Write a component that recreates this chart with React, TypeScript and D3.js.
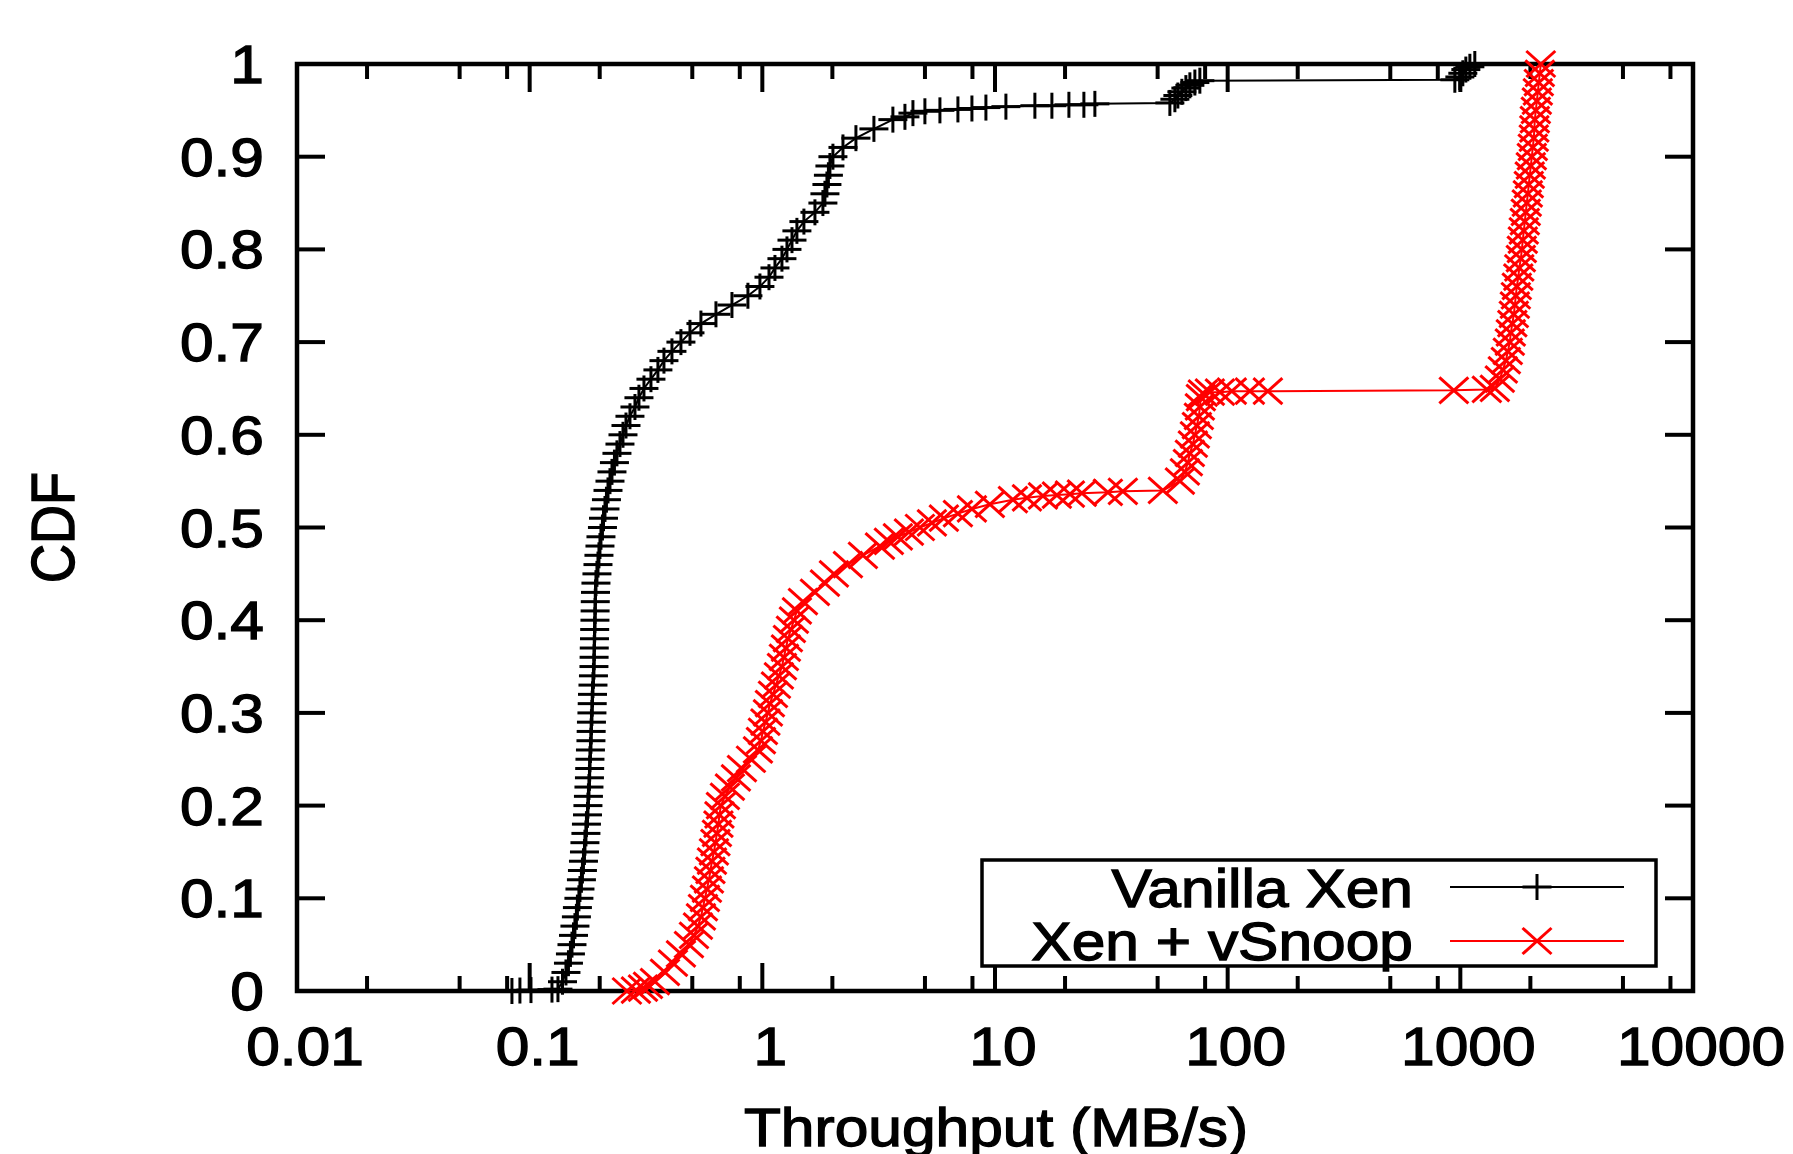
import React from 'react';
import * as d3 from 'd3';

// ---------- data ----------
const seriesNames = ['Vanilla Xen', 'Xen + vSnoop'];
const seriesColors = ['#000000', '#ff0000'];

const vanillaThroughput = [
  0.0839, 0.0908, 0.1013, 0.1247, 0.1323, 0.1384, 0.1432, 0.1468, 0.1497, 0.152,
  0.1543, 0.1565, 0.1588, 0.1604, 0.1628, 0.1645, 0.1669, 0.1686, 0.1703, 0.172,
  0.1728, 0.1745, 0.1754, 0.1772, 0.178, 0.1789, 0.1798, 0.1807, 0.1811, 0.1816,
  0.1825, 0.1834, 0.1838, 0.1843, 0.1852, 0.1857, 0.1862, 0.1871, 0.188, 0.1889,
  0.1892, 0.1895, 0.1899, 0.1903, 0.1908, 0.1911, 0.1914, 0.1918, 0.1927, 0.1946,
  0.1966, 0.1985, 0.2005, 0.2025, 0.2055, 0.2076, 0.2107, 0.2138, 0.2171, 0.2214,
  0.2258, 0.2314, 0.2372, 0.2444, 0.2518, 0.2594, 0.2698, 0.2835, 0.2949, 0.3099,
  0.3321, 0.3558, 0.3777, 0.4088, 0.4468, 0.4886, 0.5446, 0.6319, 0.7403, 0.8671,
  0.9765, 1.068, 1.133, 1.214, 1.276, 1.341, 1.408, 1.509, 1.683, 1.821,
  1.858, 1.895, 1.923, 1.952, 2.011, 2.221, 2.525, 3.017, 3.64, 4.101,
  4.439, 4.997, 5.798, 6.928, 7.958, 9.14, 11.14, 14.84, 17.56, 20.78,
  24.1, 26.87, 56.44, 59.31, 61.09, 63.56, 66.13, 68.8, 72.28, 75.94,
  947.1, 995.2, 1025, 1056, 1099, 1154,
];
const vanillaCdf = [
  0.0, 0.0005, 0.001, 0.0015, 0.002, 0.01, 0.02, 0.03, 0.04, 0.05,
  0.06, 0.07, 0.08, 0.09, 0.1, 0.11, 0.12, 0.13, 0.14, 0.15,
  0.16, 0.17, 0.18, 0.19, 0.2, 0.21, 0.22, 0.23, 0.24, 0.25,
  0.26, 0.27, 0.28, 0.29, 0.3, 0.31, 0.32, 0.33, 0.34, 0.35,
  0.36, 0.37, 0.38, 0.39, 0.4, 0.41, 0.42, 0.43, 0.44, 0.45,
  0.46, 0.47, 0.48, 0.49, 0.5, 0.51, 0.52, 0.53, 0.54, 0.55,
  0.56, 0.57, 0.58, 0.59, 0.6, 0.61, 0.62, 0.63, 0.64, 0.65,
  0.66, 0.67, 0.68, 0.69, 0.7, 0.71, 0.72, 0.73, 0.74, 0.75,
  0.76, 0.77, 0.78, 0.79, 0.8, 0.81, 0.82, 0.83, 0.84, 0.85,
  0.86, 0.87, 0.88, 0.89, 0.9, 0.91, 0.92, 0.93, 0.94, 0.943,
  0.947, 0.949, 0.95, 0.951, 0.952, 0.953, 0.954, 0.955, 0.955, 0.956,
  0.956, 0.957, 0.958, 0.962, 0.966, 0.97, 0.974, 0.977, 0.98, 0.982,
  0.983, 0.986, 0.99, 0.994, 0.997, 1.0,
];

const vsnoopThroughput = [
  0.2619, 0.2862, 0.3069, 0.3225, 0.3455, 0.3815, 0.4128, 0.4468, 0.4838, 0.5083,
  0.5288, 0.5446, 0.5555, 0.5666, 0.578, 0.5895, 0.5984, 0.6074, 0.6194, 0.6287,
  0.6381, 0.6476, 0.654, 0.6638, 0.6907, 0.7255, 0.77, 0.8172, 0.8933, 0.9574,
  0.9862, 1.006, 1.031, 1.057, 1.078, 1.111, 1.144, 1.178, 1.214, 1.238,
  1.263, 1.288, 1.327, 1.367, 1.408, 1.495, 1.683, 1.858, 2.031, 2.333,
  2.706, 3.202, 3.499, 3.825, 4.266, 4.756, 5.356, 6.031, 6.928, 7.958,
  9.508, 11.94, 13.72, 16.07, 18.45, 20.99, 23.63, 30.56, 35.45, 52.66,
  62.33, 65.49, 67.45, 68.8, 70.86, 72.28, 73.73, 75.19, 75.94, 76.69,
  78.22, 83.84, 92.58, 104.2, 124.6, 148.9, 937.8, 1300, 1407, 1478,
  1523, 1569, 1600, 1632, 1648, 1673, 1698, 1715, 1732, 1749,
  1775, 1792, 1820, 1838, 1856, 1874, 1893, 1911, 1930, 1950,
  1969, 1988, 2009, 2029, 2049, 2069, 2080, 2090, 2111, 2132,
  2153, 2174, 2196, 2218,
];
const vsnoopCdf = [
  0.0, 0.001, 0.003, 0.006, 0.01, 0.02, 0.03, 0.04, 0.05, 0.06,
  0.07, 0.08, 0.09, 0.1, 0.11, 0.12, 0.13, 0.14, 0.15, 0.16,
  0.17, 0.18, 0.19, 0.2, 0.21, 0.22, 0.23, 0.24, 0.25, 0.26,
  0.27, 0.28, 0.29, 0.3, 0.31, 0.32, 0.33, 0.34, 0.35, 0.36,
  0.37, 0.38, 0.39, 0.4, 0.41, 0.42, 0.43, 0.44, 0.45, 0.46,
  0.47, 0.48, 0.485, 0.49, 0.495, 0.5, 0.505, 0.51, 0.515, 0.52,
  0.525, 0.53, 0.532, 0.534, 0.535, 0.536, 0.537, 0.538, 0.539, 0.54,
  0.55, 0.56, 0.57, 0.58, 0.59, 0.6, 0.61, 0.62, 0.63, 0.64,
  0.645, 0.646, 0.646, 0.647, 0.647, 0.647, 0.648, 0.649, 0.65, 0.66,
  0.67, 0.68, 0.69, 0.7, 0.71, 0.72, 0.73, 0.74, 0.75, 0.76,
  0.77, 0.78, 0.79, 0.8, 0.81, 0.82, 0.83, 0.84, 0.85, 0.86,
  0.87, 0.88, 0.89, 0.9, 0.91, 0.92, 0.93, 0.94, 0.95, 0.96,
  0.97, 0.98, 0.99, 1.0,
];

const xTickValues = [0.01, 0.1, 1, 10, 100, 1000, 10000];
const xTickLabels = ['0.01', '0.1', '1', '10', '100', '1000', '10000'];
const xMinorMultipliers = [2, 5, 8];
const yTickValues = [0, 0.1, 0.2, 0.3, 0.4, 0.5, 0.6, 0.7, 0.8, 0.9, 1];
const yTickLabels = ['0', '0.1', '0.2', '0.3', '0.4', '0.5', '0.6', '0.7', '0.8', '0.9', '1'];
const xTitle = 'Throughput (MB/s)';
const yTitle = 'CDF';

// ---------- layout ----------
const W = 1793;
const H = 1154;
const L = 297, R = 1693, T = 64, B = 991;
const FONT = '"Liberation Sans", Arial, Helvetica, sans-serif';
const FS = 54;
const SX = 1.12; // horizontal stretch of the original raster
const TEXT_STROKE = 1.3;
const MAJOR = 28;
const MINOR = 15;
const MX = 14.5; // marker half-width
const MY = 13; // marker half-height
const MSW = 3; // marker stroke width

function Marker({ kind, cx, cy, color }: { kind: number; cx: number; cy: number; color: string }) {
  if (kind === 0) {
    return (
      <g stroke={color} strokeWidth={MSW}>
        <line x1={cx - MX} y1={cy} x2={cx + MX} y2={cy} />
        <line x1={cx} y1={cy - MY} x2={cx} y2={cy + MY} />
      </g>
    );
  }
  return (
    <g stroke={color} strokeWidth={MSW}>
      <line x1={cx - MX} y1={cy - MY} x2={cx + MX} y2={cy + MY} />
      <line x1={cx - MX} y1={cy + MY} x2={cx + MX} y2={cy - MY} />
    </g>
  );
}

function Txt({ x, y, anchor, children }: { x: number; y: number; anchor: string; children: React.ReactNode }) {
  return (
    <text
      transform={`translate(${x},${y}) scale(${SX},1)`}
      textAnchor={anchor}
      fontFamily={FONT}
      fontSize={FS}
      fill="#000"
      stroke="#000"
      strokeWidth={TEXT_STROKE}
    >
      {children}
    </text>
  );
}

export default function App() {
  const x = d3.scaleLog().domain([0.01, 10000]).range([L, R]);
  const y = d3.scaleLinear().domain([0, 1]).range([B, T]);

  const series = [
    { xs: vanillaThroughput, ys: vanillaCdf },
    { xs: vsnoopThroughput, ys: vsnoopCdf },
  ];
  const line = d3
    .line<[number, number]>()
    .x((d) => x(d[0]))
    .y((d) => y(d[1]));

  const minorTicks: number[] = [];
  xTickValues.slice(0, -1).forEach((v) => xMinorMultipliers.forEach((m) => minorTicks.push(v * m)));

  const legendRows = [
    { ty: 907, ly: 887 },
    { ty: 960, ly: 941 },
  ];

  return (
    <svg
      width={W}
      height={H}
      viewBox={`0 0 ${W} ${H}`}
      style={{ position: 'absolute', left: 0, top: 0, background: '#fff', display: 'block' }}
    >
      <rect x={0} y={0} width={W} height={H} fill="#fff" />
      {/* ticks */}
      <g stroke="#000" strokeWidth={4}>
        {yTickValues.map((v, i) => (
          <g key={'yt' + i}>
            <line x1={L} x2={L + MAJOR} y1={y(v)} y2={y(v)} />
            <line x1={R} x2={R - MAJOR} y1={y(v)} y2={y(v)} />
          </g>
        ))}
        {xTickValues.map((v, i) => (
          <g key={'xt' + i}>
            <line x1={x(v)} x2={x(v)} y1={B} y2={B - MAJOR} />
            <line x1={x(v)} x2={x(v)} y1={T} y2={T + MAJOR} />
          </g>
        ))}
        {minorTicks.map((v, i) => (
          <g key={'xm' + i}>
            <line x1={x(v)} x2={x(v)} y1={B} y2={B - MINOR} />
            <line x1={x(v)} x2={x(v)} y1={T} y2={T + MINOR} />
          </g>
        ))}
      </g>
      <rect x={L} y={T} width={R - L} height={B - T} fill="none" stroke="#000" strokeWidth={4.5} />

      {/* tick labels */}
      {yTickValues.map((v, i) => (
        <Txt key={'yl' + i} x={264} y={y(v) + 19} anchor="end">
          {yTickLabels[i]}
        </Txt>
      ))}
      {xTickValues.map((v, i) => (
        <Txt key={'xl' + i} x={x(v) + 8} y={1065} anchor="middle">
          {xTickLabels[i]}
        </Txt>
      ))}
      <Txt x={(L + R) / 2 + 1} y={1146} anchor="middle">
        {xTitle}
      </Txt>
      <text
        transform={`translate(74,${(T + B) / 2}) scale(${SX},1) rotate(-90)`}
        textAnchor="middle"
        fontFamily={FONT}
        fontSize={FS}
        fill="#000"
        stroke="#000"
        strokeWidth={TEXT_STROKE}
      >
        {yTitle}
      </text>

      {/* data */}
      {series.map((s, si) => {
        const pts: [number, number][] = s.xs.map((v, i) => [v, s.ys[i]]);
        return (
          <g key={'s' + si}>
            <path d={line(pts) || ''} fill="none" stroke={seriesColors[si]} strokeWidth={2} />
            {pts.map((p, i) => (
              <Marker key={i} kind={si} cx={x(p[0])} cy={y(p[1])} color={seriesColors[si]} />
            ))}
          </g>
        );
      })}

      {/* legend */}
      <rect x={982} y={860} width={674} height={106} fill="#fff" stroke="#000" strokeWidth={3.5} />
      {seriesNames.map((name, i) => (
        <g key={'lg' + i}>
          <Txt x={1413} y={legendRows[i].ty} anchor="end">
            {name}
          </Txt>
          <line x1={1450} x2={1624} y1={legendRows[i].ly} y2={legendRows[i].ly} stroke={seriesColors[i]} strokeWidth={2} />
          <Marker kind={i} cx={1537} cy={legendRows[i].ly} color={seriesColors[i]} />
        </g>
      ))}
    </svg>
  );
}
